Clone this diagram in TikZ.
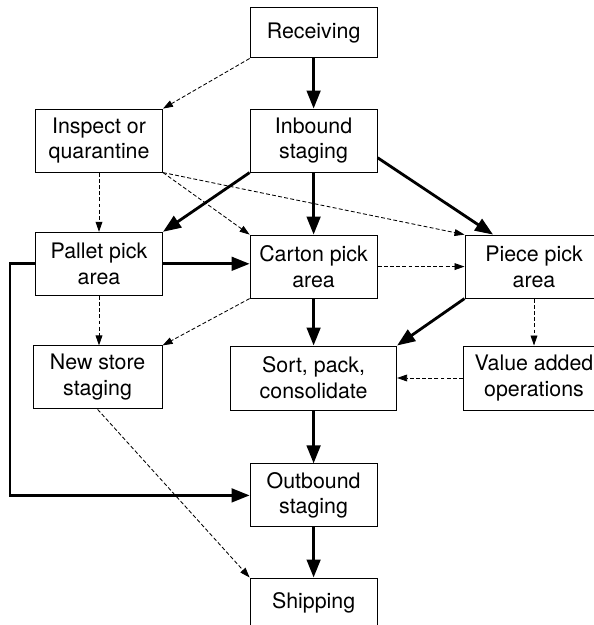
\documentclass[tikz,border=0pt]{standalone}
\usepackage{fontspec}
\setmainfont{TeX Gyre Heros}
\usetikzlibrary{arrows.meta}
\begin{document}
\begin{tikzpicture}[
    box/.style={draw, line width=0.7pt, align=center, inner sep=0pt,
      minimum width=3.175cm, minimum height=1.575cm,
      font=\fontsize{15.2}{18.4}\selectfont},
    flow/.style={-{Triangle[length=0.45cm, width=0.34cm]}, line width=2pt},
    aux/.style={-{Triangle[length=0.25cm, width=0.17cm]}, line width=0.6pt,
      dash pattern=on 2.8pt off 1.6pt},
  ]
  \useasboundingbox (0,0) rectangle (14.825,15.625);
  \node[box, minimum height=1.25cm] (recv) at (7.84, 14.8) {Receiving};
  \node[box] (inspect) at (2.475, 12.11) {Inspect or \\ quarantine};
  \node[box] (inbound) at (7.84, 12.11) {Inbound \\ staging};
  \node[box] (pallet) at (2.475, 9.03) {Pallet pick \\ area};
  \node[box] (carton) at (7.84, 8.96) {Carton pick \\ area};
  \node[box, minimum width=3.45cm] (piece) at (13.35, 8.96) {Piece pick \\ area};
  \node[box, minimum width=3.225cm] (newstore) at (2.44, 6.19) {New store \\ staging};
  \node[box, minimum width=4.15cm, minimum height=1.6cm] (sort) at (7.84, 6.175) {Sort, pack, \\ consolidate};
  \node[box, minimum width=3.525cm, minimum height=1.6cm] (value) at (13.35, 6.175) {Value added \\ operations};
  \node[box] (outbound) at (7.84, 3.24) {Outbound \\ staging};
  \node[box, minimum height=1.25cm] (shipping) at (7.84, 0.55) {Shipping};
  \draw[flow] (recv) -- (inbound);
  \draw[aux] (recv.south west) -- (inspect.north east);
  \draw[aux] (inspect) -- (pallet);
  \draw[aux] (inspect.south east) -- (carton.north west);
  \draw[aux] (inspect.south east) -- (piece.north west);
  \draw[flow] (inbound.south west) -- (pallet.north east);
  \draw[flow] (inbound) -- (carton);
  \draw[flow] (inbound.-15) -- (piece.142);
  \draw[flow] (pallet.east) -- (pallet.east -| carton.west);
  \draw[aux] (carton) -- (piece);
  \draw[aux] (pallet.south) -- (pallet.south |- newstore.north);
  \draw[aux] (carton.south west) -- (newstore.north east);
  \draw[flow] (carton) -- (sort);
  \draw[flow] (piece.south west) -- (sort.north east);
  \draw[aux] (piece) -- (value);
  \draw[aux] (value) -- (sort);
  \draw[flow] (sort) -- (outbound);
  \draw[flow] (pallet.west) -- ++(-0.625,0) |- (outbound.west);
  \draw[aux] (newstore.south) -- (shipping.north west);
  \draw[flow] (outbound) -- (shipping);
\end{tikzpicture}
\end{document}
